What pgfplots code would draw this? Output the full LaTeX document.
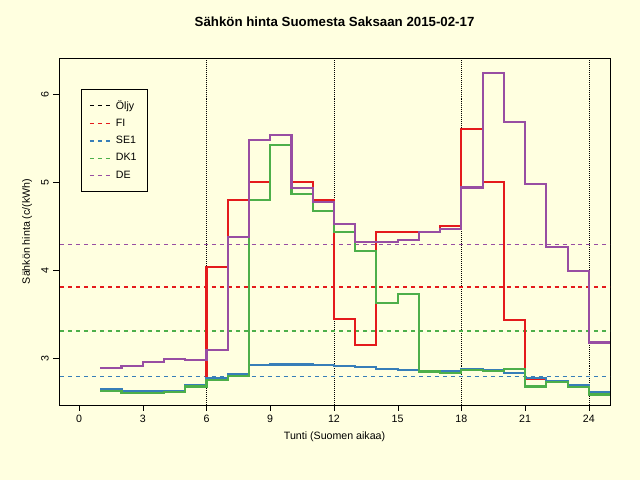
\documentclass[border=0pt]{standalone}
\usepackage{pgfplots}
\pgfplotsset{compat=1.18}
\usepackage{fontspec}
\setmainfont{Liberation Sans}
\definecolor{bg}{HTML}{FFFFE0}
\definecolor{cr}{HTML}{E41A1C}
\definecolor{cb}{HTML}{377EB8}
\definecolor{cg}{HTML}{4DAF4A}
\definecolor{cp}{HTML}{984EA3}
\pgfplotsset{st/.style={const plot, line width=1.6pt}, md/.style={dashed, line width=0.9pt, forget plot, sharp plot}}
\begin{document}
\begin{tikzpicture}
\fill[bg] (0,0) rectangle (6.6667in,5in);
\path[use as bounding box] (0,0) rectangle (6.6667in,5in);
\begin{axis}[at={(0.615in,0.781in)}, anchor=south west, width=5.74in, height=3.615in, scale only axis,
 xmin=-0.94, xmax=25, ymin=2.47, ymax=6.41,
 xtick={0,3,...,24}, ytick={3,4,5,6}, xtick pos=left, ytick pos=left,
 tick label style={font=\footnotesize}, /pgf/number format/assume math mode=true,
 yticklabel style={rotate=90, anchor=south},
 xlabel={\footnotesize Tunti (Suomen aikaa)}, ylabel={\footnotesize Sähkön hinta (c/(kWh)},
 title={\bfseries Sähkön hinta Suomesta Saksaan 2015-02-17}, title style={yshift=14pt},
 tick align=outside, axis line style={black, line width=0.5pt}, tick style={black},
 legend style={at={(0.04,0.91)}, anchor=north west, font=\footnotesize, fill=bg, draw=black, line width=0.5pt, inner sep=6pt, row sep=2pt},
 legend cell align=left, clip=true]
\addlegendimage{black, dashed, line width=0.9pt}\addlegendentry{Öljy}
\addlegendimage{cr, dashed, line width=0.9pt}\addlegendentry{FI}
\addlegendimage{cb, dashed, line width=0.9pt}\addlegendentry{SE1}
\addlegendimage{cg, dashed, line width=0.9pt}\addlegendentry{DK1}
\addlegendimage{cp, dashed, line width=0.9pt}\addlegendentry{DE}
\addplot[black, densely dotted, line width=0.5pt, forget plot] coordinates {(6,2.47)(6,6.41)};
\addplot[black, densely dotted, line width=0.5pt, forget plot] coordinates {(12,2.47)(12,6.41)};
\addplot[black, densely dotted, line width=0.5pt, forget plot] coordinates {(18,2.47)(18,6.41)};
\addplot[black, densely dotted, line width=0.5pt, forget plot] coordinates {(24,2.47)(24,6.41)};
\addplot[cr, md] coordinates {(-2,3.81)(26,3.81)};
\addplot[cb, md] coordinates {(-2,2.79)(26,2.79)};
\addplot[cg, md] coordinates {(-2,3.31)(26,3.31)};
\addplot[cp, md] coordinates {(-2,4.29)(26,4.29)};
\addplot[cr, st, forget plot] coordinates {(1,2.65)(2,2.62)(3,2.62)(4,2.63)(5,2.70)(6,4.04)(7,4.80)(8,5.00)(9,5.42)(10,5.00)(11,4.80)(12,3.45)(13,3.15)(14,4.43)(15,4.43)(16,4.43)(17,4.50)(18,5.60)(19,5.00)(20,3.44)(21,2.77)(22,2.74)(23,2.68)(24,2.62)(25,2.62)};
\addplot[cb, st, forget plot] coordinates {(1,2.65)(2,2.63)(3,2.63)(4,2.63)(5,2.70)(6,2.78)(7,2.82)(8,2.92)(9,2.93)(10,2.93)(11,2.92)(12,2.91)(13,2.90)(14,2.88)(15,2.87)(16,2.86)(17,2.85)(18,2.88)(19,2.87)(20,2.83)(21,2.78)(22,2.74)(23,2.70)(24,2.62)(25,2.62)};
\addplot[cg, st, forget plot] coordinates {(1,2.63)(2,2.61)(3,2.61)(4,2.62)(5,2.68)(6,2.75)(7,2.80)(8,4.80)(9,5.42)(10,4.87)(11,4.67)(12,4.43)(13,4.22)(14,3.63)(15,3.73)(16,2.85)(17,2.83)(18,2.87)(19,2.86)(20,2.88)(21,2.68)(22,2.73)(23,2.67)(24,2.59)(25,2.59)};
\addplot[cp, st, forget plot] coordinates {(1,2.89)(2,2.91)(3,2.96)(4,2.99)(5,2.98)(6,3.09)(7,4.38)(8,5.48)(9,5.54)(10,4.93)(11,4.77)(12,4.53)(13,4.32)(14,4.32)(15,4.34)(16,4.43)(17,4.47)(18,4.94)(19,6.24)(20,5.68)(21,4.98)(22,4.26)(23,3.99)(24,3.18)(25,3.18)};
\end{axis}
\end{tikzpicture}
\end{document}
